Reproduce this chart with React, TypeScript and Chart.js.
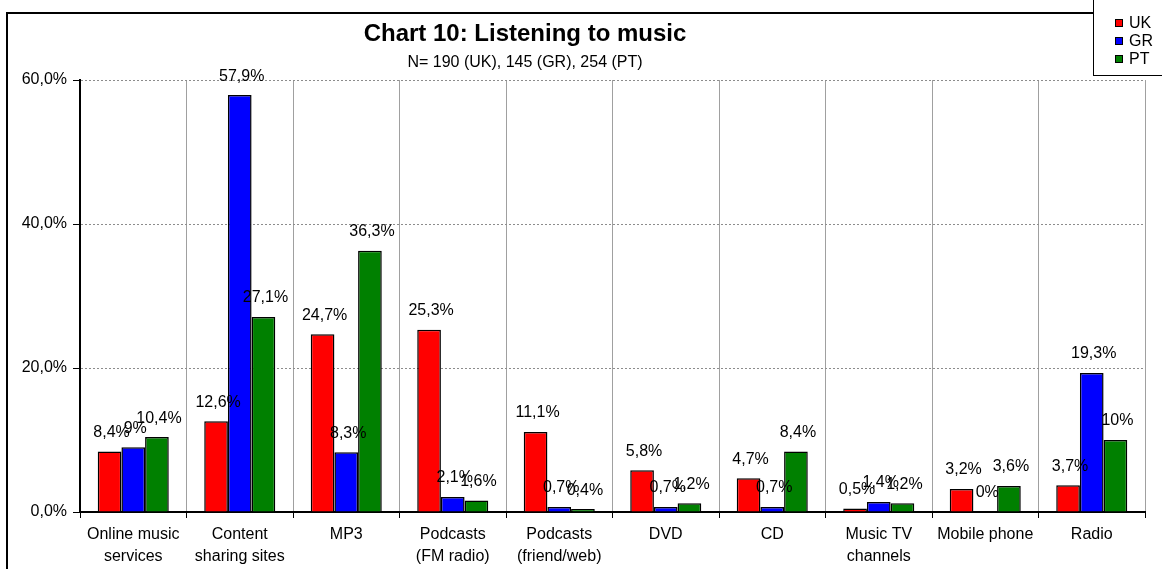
import React, { useEffect, useRef } from "react";
import { Chart, registerables } from "chart.js";

Chart.register(...registerables);

const categories: string[][] = [
  ["Online music", "services"],
  ["Content", "sharing sites"],
  ["MP3"],
  ["Podcasts", "(FM radio)"],
  ["Podcasts", "(friend/web)"],
  ["DVD"],
  ["CD"],
  ["Music TV", "channels"],
  ["Mobile phone"],
  ["Radio"],
];

const seriesNames = ["UK", "GR", "PT"];
const ukValues = [8.4, 12.6, 24.7, 25.3, 11.1, 5.8, 4.7, 0.5, 3.2, 3.7];
const grValues = [9, 57.9, 8.3, 2.1, 0.7, 0.7, 0.7, 1.4, 0, 19.3];
const ptValues = [10.4, 27.1, 36.3, 1.6, 0.4, 1.2, 8.4, 1.2, 3.6, 10];
const seriesColors = ["#FF0000", "#0000FF", "#008000"];

const yTickValues = [0, 20, 40, 60];
const titleText = "Chart 10: Listening to music";
const subtitleText = "N= 190 (UK), 145 (GR), 254 (PT)";

const FONT = '"Liberation Sans", Arial, Helvetica, sans-serif';

const fmtLabel = (v: number) =>
  Number.isInteger(v) ? `${v}%` : `${v.toFixed(1).replace(".", ",")}%`;
const fmtTick = (v: number) => `${v.toFixed(1).replace(".", ",")}%`;

const decorPlugin = {
  id: "decor",
  beforeDraw(chart: any) {
    const ctx = chart.ctx;
    ctx.save();
    ctx.fillStyle = "#ffffff";
    ctx.fillRect(0, 0, chart.width, chart.height);
    ctx.strokeStyle = "#000000";
    ctx.lineWidth = 2;
    ctx.strokeRect(7, 13, chart.width + 40, chart.height + 40);
    ctx.restore();
  },
  afterDatasetsDraw(chart: any) {
    const ctx = chart.ctx;
    ctx.save();
    ctx.font = `16px ${FONT}`;
    ctx.fillStyle = "#000000";
    ctx.textAlign = "center";
    ctx.textBaseline = "middle";
    chart.data.datasets.forEach((ds: any, di: number) => {
      const meta = chart.getDatasetMeta(di);
      meta.data.forEach((el: any, i: number) => {
        ctx.fillText(fmtLabel(ds.data[i]), el.x + 2, el.y - 19);
      });
    });
    ctx.restore();
  },
  afterDraw(chart: any) {
    const ctx = chart.ctx;
    ctx.save();
    ctx.fillStyle = "#000000";
    ctx.textAlign = "center";
    ctx.textBaseline = "middle";
    ctx.font = `bold 24px ${FONT}`;
    ctx.fillText(titleText, 525, 34);
    ctx.font = `16px ${FONT}`;
    ctx.fillText(subtitleText, 525, 63);

    // legend box
    ctx.fillStyle = "#ffffff";
    ctx.fillRect(1093, -2, 100, 78);
    ctx.strokeStyle = "#000000";
    ctx.lineWidth = 1;
    ctx.strokeRect(1093.5, -2, 100, 77.5);
    ctx.textAlign = "left";
    ctx.font = `16px ${FONT}`;
    seriesNames.forEach((name, i) => {
      const cy = 23 + i * 18;
      ctx.fillStyle = seriesColors[i];
      ctx.fillRect(1115, cy - 4, 8, 8);
      ctx.strokeStyle = "#000000";
      ctx.strokeRect(1115.5, cy - 3.5, 7, 7);
      ctx.fillStyle = "#000000";
      ctx.fillText(name, 1129, cy + 1);
    });
    ctx.restore();
  },
};

export default function App() {
  const canvasRef = useRef<HTMLCanvasElement | null>(null);

  useEffect(() => {
    if (!canvasRef.current) return;
    const valueSets = [ukValues, grValues, ptValues];
    const chart = new Chart(canvasRef.current, {
      type: "bar",
      data: {
        labels: categories,
        datasets: seriesNames.map((name, i) => ({
          label: name,
          data: valueSets[i],
          backgroundColor: seriesColors[i],
          borderColor: "#000000",
          borderWidth: 1.5,
          categoryPercentage: 0.667,
          barPercentage: 1,
        })),
      },
      options: {
        responsive: false,
        animation: false,
        layout: { padding: { left: 0, top: 80, right: 17, bottom: 0 } },
        plugins: {
          legend: { display: false },
          title: { display: false },
          tooltip: { enabled: false },
        },
        scales: {
          x: {
            grid: {
              color: "#a0a0a0",
              lineWidth: 1,
              offset: true,
              drawTicks: true,
              tickLength: 6,
              tickColor: "#000000",
            },
            border: { color: "#000000", width: 2 },
            ticks: {
              color: "#000000",
              font: { family: FONT, size: 16, lineHeight: 1.35 },
              padding: 6,
              maxRotation: 0,
              autoSkip: false,
            },
            afterFit: (scale: any) => {
              scale.height = 57;
            },
          },
          y: {
            min: 0,
            max: 60,
            afterBuildTicks: (scale: any) => {
              scale.ticks = yTickValues.map((v) => ({ value: v }));
            },
            grid: {
              color: "#8c8c8c",
              lineWidth: 1,
              drawTicks: true,
              tickLength: 7,
              tickColor: "#000000",
              tickBorderDash: [],
            },
            border: { color: "#000000", width: 2, dash: [2, 2] },
            ticks: {
              color: "#000000",
              font: { family: FONT, size: 16 },
              padding: 6,
              callback: (v: any) => fmtTick(Number(v)),
            },
            afterFit: (scale: any) => {
              scale.width = 80;
            },
          },
        },
      },
      plugins: [decorPlugin],
    });
    return () => chart.destroy();
  }, []);

  return (
    <div style={{ position: "absolute", left: 0, top: 0, width: 1162, height: 569 }}>
      <canvas ref={canvasRef} width={1162} height={569} />
    </div>
  );
}
